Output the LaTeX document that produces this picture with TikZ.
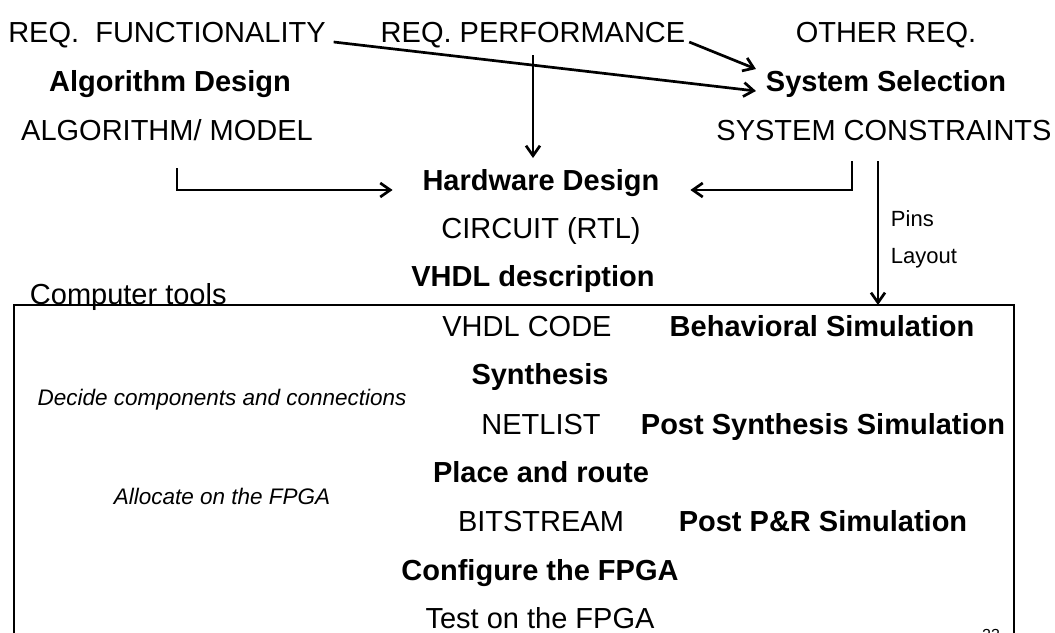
\documentclass[tikz,border=0pt]{standalone}
\usepackage{fontspec}
\setmainfont{Liberation Sans}
\usetikzlibrary{arrows.meta}

\tikzset{
  lbl/.style={anchor=base,inner sep=0.75pt,font=\fontsize{29}{33}\selectfont},
  lblb/.style={lbl,font=\fontsize{29}{33}\selectfont\bfseries},
  hint/.style={anchor=base,inner sep=0.75pt,font=\fontsize{22.5}{26}\selectfont\itshape},
  side/.style={anchor=base west,inner sep=0.75pt,font=\fontsize{22}{26}\selectfont},
  flow/.style={line width=2.7pt,-{Straight Barb[length=10pt,width=14pt]}},
  frame/.style={line width=2.8pt},
}

\begin{document}
\begin{tikzpicture}[x=1pt,y=1pt,yscale=-1,xscale=1]
\useasboundingbox (0,0) rectangle (1055,632);

% Text Node
\node[lbl] (reqf) at (167,42) {REQ.\ \ FUNCTIONALITY};
% Text Node
\node[lbl] (reqp) at (533,42) {REQ. PERFORMANCE};
% Text Node
\node[lbl] (reqo) at (886,42) {OTHER REQ.};
% Text Node
\node[lblb] (algd) at (170,91) {Algorithm Design};
% Text Node
\node[lblb] (syss) at (886,91) {System Selection};
% Text Node
\node[lbl] (algm) at (167,140) {ALGORITHM/ MODEL};
% Text Node
\node[lbl] (sysc) at (884,140) {SYSTEM CONSTRAINTS};
% Text Node
\node[lblb] (hwd) at (541,190) {Hardware Design};
% Text Node
\node[lbl] (circ) at (541,238) {CIRCUIT (RTL)};
% Text Node
\node[lblb] (vhdd) at (533,286) {VHDL description};
% Text Node
\node[lbl,anchor=base west] (ctools) at (29,304) {Computer tools};
% Text Node
\node[side] (pins) at (890,226) {Pins};
% Text Node
\node[side] (layout) at (890,263) {Layout};

%Shape: Frame
\coordinate (boxtl) at (14,305);
\coordinate (boxtr) at (1014,305);
\draw[frame] (14,660) -- (boxtl) -- (boxtr) -- (1014,660);

% Text Node
\node[lbl] (vcode) at (527,336) {VHDL CODE};
% Text Node
\node[lblb] (bsim) at (822,336) {Behavioral Simulation};
% Text Node
\node[lblb] (synth) at (540,384) {Synthesis};
% Text Node
\node[hint] (decide) at (222,405) {Decide components and connections};
% Text Node
\node[lbl] (netl) at (541,434) {NETLIST};
% Text Node
\node[lblb] (pssim) at (823,434) {Post Synthesis Simulation};
% Text Node
\node[lblb] (pnr) at (541,482) {Place and route};
% Text Node
\node[hint] (alloc) at (222,504) {Allocate on the FPGA};
% Text Node
\node[lbl] (bits) at (541,531) {BITSTREAM};
% Text Node
\node[lblb] (prsim) at (823,531) {Post P\&R Simulation};
% Text Node
\node[lblb] (conf) at (540,580) {Configure the FPGA};
% Text Node
\node[lbl] (test) at (540,628) {Test on the FPGA};
% Text Node
\node[anchor=base,inner sep=0.75pt,font=\fontsize{16}{18}\selectfont] (pnum) at (991,640) {23};

%Straight Lines
\draw[flow] ([xshift=7pt]reqf.base east) -- ([xshift=-9pt]syss.base west);
%Straight Lines
\draw[flow] ([xshift=3pt]reqp.base east) -- ([xshift=-9pt]syss.north west);
%Straight Lines
\draw[flow,shorten <=7pt,shorten >=10pt] (reqp.south) -- (reqp.south |- hwd.north);
%Straight Lines
\draw[flow,shorten <=27pt,shorten >=29pt] ([xshift=10pt]algm.south) |- (hwd.base west);
%Straight Lines
\draw[flow,shorten <=20pt,shorten >=30pt] ([xshift=-32pt]sysc.south) |- (hwd.base east);
%Straight Lines
\draw[flow,shorten <=20pt] ([xshift=-6pt]sysc.south) -- ([xshift=-6pt]sysc.south |- boxtr);

\end{tikzpicture}
\end{document}
